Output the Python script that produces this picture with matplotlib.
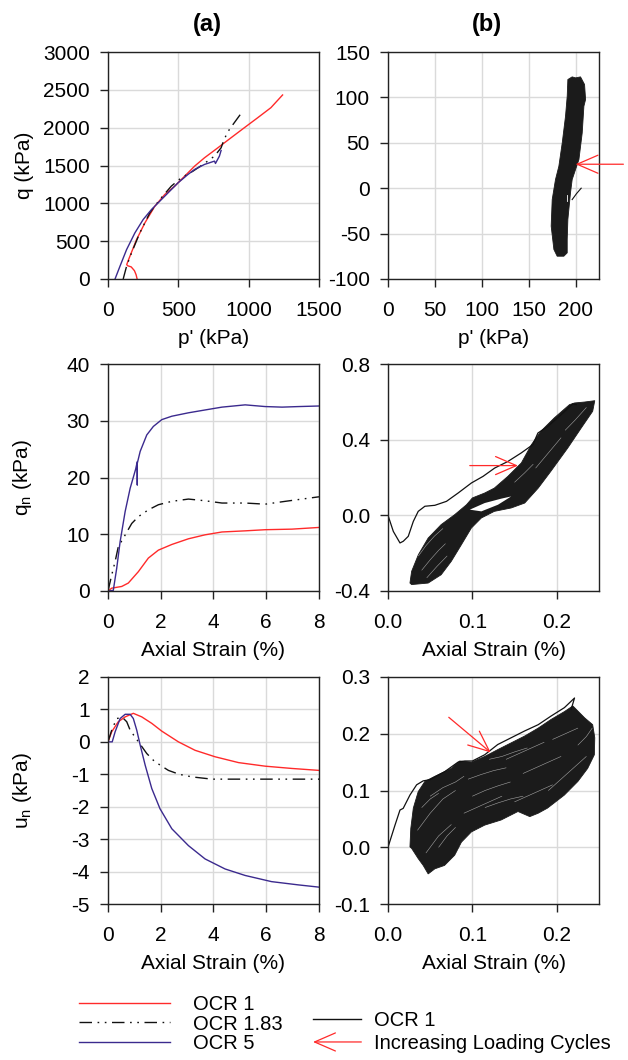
import numpy as np
import matplotlib
matplotlib.use('Agg')
import matplotlib.pyplot as plt
from matplotlib.lines import Line2D
from matplotlib.patches import FancyArrowPatch
from matplotlib.legend_handler import HandlerBase

plt.rcParams['font.family'] = ['Liberation Sans', 'DejaVu Sans']
plt.rcParams['mathtext.default'] = 'regular'
plt.rcParams['axes.unicode_minus'] = False

RED = '#ff2a2a'
BLUE = '#3b2a8e'
BLACK = '#111111'
BLOB = '#1b1b1b'
DASHDOT2 = (0, (9, 4, 1.2, 4, 1.2, 4))

# ---- (a) monotonic tests ----
# q vs p'
a1_red_p = [207, 200, 188, 165, 140, 133, 145, 160, 203, 262, 333, 403, 474, 545, 616, 686, 781, 875, 969, 1064, 1158, 1241]
a1_red_q = [0, 55, 110, 160, 175, 190, 250, 320, 521, 741, 962, 1116, 1227, 1359, 1492, 1602, 1734, 1867, 1999, 2131, 2264, 2432]
a1_blk_p = [108, 132, 167, 226, 297, 368, 450, 521, 604, 675, 757, 804, 821, 840, 863, 950]
a1_blk_q = [0, 168, 344, 609, 874, 1050, 1227, 1337, 1425, 1514, 1624, 1734, 1822, 1900, 1977, 2198]
a1_blu_p = [50, 85, 132, 191, 250, 309, 368, 439, 498, 568, 616, 686, 757, 764, 792, 804]
a1_blu_q = [0, 168, 388, 609, 786, 918, 1028, 1161, 1271, 1381, 1448, 1514, 1558, 1527, 1624, 1699]

# qn vs axial strain
a2_red_e = [0, 0.14, 0.52, 0.77, 1.15, 1.53, 1.91, 2.42, 3.05, 3.68, 4.32, 5.2, 5.96, 6.97, 8.0]
a2_red_q = [0, 0.5, 0.8, 1.4, 3.4, 5.8, 7.2, 8.2, 9.2, 9.9, 10.4, 10.6, 10.8, 10.9, 11.2]
a2_blk_e = [0, 0.14, 0.27, 0.39, 0.58, 0.9, 1.15, 1.53, 1.91, 2.42, 3.05, 3.68, 4.32, 5.2, 5.96, 6.72, 8.0]
a2_blk_q = [0, 2.8, 5.2, 7.8, 9.3, 11.9, 13.1, 14.3, 15.2, 15.8, 16.2, 15.9, 15.5, 15.5, 15.3, 15.8, 16.6]
a2_blu_e = [0, 0.2, 0.33, 0.46, 0.65, 0.84, 1.05, 1.11, 1.11, 1.11, 1.22, 1.47, 1.72, 2.04, 2.42, 3.05, 3.68, 4.32, 5.2, 5.96, 6.6, 7.23, 8.0]
a2_blu_q = [0, 0.1, 4.0, 8.7, 14.0, 18.1, 21.5, 22.8, 18.7, 22.5, 24.6, 27.5, 29.0, 30.2, 30.8, 31.4, 31.9, 32.4, 32.8, 32.5, 32.4, 32.5, 32.6]

# un vs axial strain
a3_red_e = [0, 0.14, 0.39, 0.65, 0.96, 1.28, 1.66, 2.04, 2.67, 3.3, 4.06, 4.95, 5.96, 6.97, 8.0]
a3_red_u = [0, 0.31, 0.62, 0.77, 0.88, 0.77, 0.57, 0.33, 0.0, -0.26, -0.46, -0.64, -0.75, -0.82, -0.88]
a3_blk_e = [0, 0.14, 0.33, 0.55, 0.71, 0.84, 1.47, 1.76, 2.04, 2.29, 2.7, 3.18, 3.94, 6.0, 8.0]
a3_blk_u = [0, 0.36, 0.72, 0.75, 0.62, 0.36, -0.36, -0.6, -0.75, -0.88, -1.0, -1.08, -1.15, -1.15, -1.15]
a3_blu_e = [0, 0.16, 0.27, 0.46, 0.65, 0.84, 0.96, 1.09, 1.22, 1.41, 1.66, 1.97, 2.42, 3.05, 3.68, 4.44, 5.2, 6.2, 7.21, 8.0]
a3_blu_u = [0, 0, 0.31, 0.72, 0.85, 0.85, 0.72, 0.36, -0.1, -0.72, -1.44, -2.06, -2.68, -3.2, -3.61, -3.92, -4.12, -4.31, -4.41, -4.48]

# ---- (b) cyclic test, OCR 1 ----
# q vs p': envelope of the loops
b1_env_p = [176.9, 174.0, 175.1, 178.6, 182.2, 185.8, 189.3, 191.1, 191.8, 196.4, 200.0, 205.3, 209.6, 210.7,
            208.9, 207.1, 203.6, 200.0, 196.4, 194.6, 191.8, 191.1, 191.1, 187.5, 180.4]
b1_env_q = [-67.5, -41.8, -12.5, 9.5, 24.2, 49.9, 79.3, 101.3, 119.7, 122.6, 121.5, 122.6, 114.2, 97.7,
            90.3, 60.9, 31.6, 20.6, 9.5, -5.1, -34.5, -56.5, -71.2, -74.9, -74.9]
b1_first_p = [206.0, 201.0, 196.4]
b1_first_q = [0.0, -6.0, -12.5]

# qn vs axial strain
b2_first_e = [0, 0.0063, 0.0142, 0.0181, 0.024, 0.03, 0.0358, 0.0437, 0.0555, 0.0693, 0.0831, 0.0988, 0.1126,
              0.1264, 0.1421, 0.1579, 0.1717, 0.1776, 0.1894, 0.2051, 0.2189, 0.223]
b2_first_q = [0, -0.085, -0.146, -0.137, -0.111, -0.032, 0.021, 0.048, 0.053, 0.074, 0.118, 0.171, 0.206,
              0.25, 0.285, 0.33, 0.374, 0.435, 0.47, 0.532, 0.589, 0.585]
b2_env_e = [0.026, 0.028, 0.036, 0.0476, 0.063, 0.079, 0.093, 0.1, 0.1146, 0.126, 0.142, 0.158, 0.17, 0.181,
            0.197, 0.215, 0.221, 0.233, 0.245, 0.2425, 0.229, 0.213, 0.193, 0.178, 0.162, 0.146, 0.126,
            0.1106, 0.0988, 0.087, 0.075, 0.063, 0.0476, 0.028]
b2_env_q = [-0.358, -0.296, -0.208, -0.12, -0.049, 0.0035, 0.056, 0.092, 0.118, 0.144, 0.206, 0.277, 0.374,
            0.444, 0.515, 0.585, 0.594, 0.599, 0.606, 0.55, 0.462, 0.356, 0.233, 0.144, 0.065, 0.039, 0.021,
            -0.014, -0.067, -0.155, -0.243, -0.314, -0.358, -0.366]
b2_hole_e = [0.0969, 0.1146, 0.134, 0.146, 0.1303, 0.1106]
b2_hole_q = [0.03, 0.065, 0.088, 0.1, 0.056, 0.021]
b2_streaks = [
    ([0.036, 0.045, 0.055, 0.065], [-0.215, -0.160, -0.110, -0.070]),
    ([0.040, 0.050, 0.060, 0.068], [-0.290, -0.235, -0.185, -0.150]),
    ([0.046, 0.058, 0.070], [-0.330, -0.270, -0.215]),
    ([0.175, 0.190, 0.205], [0.250, 0.330, 0.410]),
    ([0.210, 0.222, 0.235], [0.450, 0.505, 0.570]),
    ([0.150, 0.162, 0.172], [0.175, 0.225, 0.270]),
]

# un vs axial strain
b3_first_e = [0, 0.0083, 0.0142, 0.018, 0.026, 0.0339, 0.0417, 0.0496, 0.067, 0.083, 0.091, 0.1, 0.1146, 0.13,
              0.146, 0.162, 0.178, 0.193, 0.209, 0.221, 0.217]
b3_first_u = [0, 0.039, 0.0656, 0.0685, 0.092, 0.11, 0.117, 0.119, 0.133, 0.15, 0.152, 0.152, 0.163, 0.181,
              0.193, 0.205, 0.216, 0.231, 0.246, 0.263, 0.243]
b3_env_e = [0.026, 0.027, 0.03, 0.0358, 0.0437, 0.0555, 0.075, 0.085, 0.099, 0.1146, 0.13, 0.146, 0.162, 0.178,
            0.193, 0.209, 0.219, 0.233, 0.2425, 0.245, 0.2445, 0.2366, 0.225, 0.209, 0.189, 0.178, 0.168,
            0.154, 0.134, 0.1146, 0.0988, 0.087, 0.079, 0.067, 0.0555, 0.0476, 0.0417, 0.0358, 0.028]
b3_env_u = [0.0006, 0.033, 0.069, 0.098, 0.116, 0.125, 0.139, 0.152, 0.15, 0.16, 0.172, 0.184, 0.196, 0.21,
            0.225, 0.239, 0.249, 0.228, 0.216, 0.193, 0.163, 0.139, 0.116, 0.092, 0.069, 0.06, 0.054,
            0.063, 0.048, 0.039, 0.027, 0.009, -0.014, -0.032, -0.038, -0.047, -0.032, -0.02, -0.002]
b3_streaks = [
    ([0.035, 0.050, 0.065, 0.080], [0.030, 0.060, 0.085, 0.100]),
    ([0.045, 0.060, 0.075], [-0.010, 0.020, 0.040]),
    ([0.050, 0.065, 0.080, 0.090], [0.090, 0.105, 0.115, 0.125]),
    ([0.090, 0.105, 0.120, 0.135], [0.060, 0.070, 0.080, 0.090]),
    ([0.095, 0.110, 0.125, 0.140], [0.120, 0.128, 0.135, 0.140]),
    ([0.100, 0.115, 0.130, 0.145], [0.090, 0.100, 0.108, 0.115]),
    ([0.140, 0.155, 0.170, 0.185], [0.155, 0.165, 0.175, 0.185]),
    ([0.150, 0.165, 0.180, 0.195], [0.080, 0.090, 0.100, 0.110]),
    ([0.160, 0.175, 0.190, 0.205], [0.130, 0.140, 0.150, 0.160]),
    ([0.190, 0.205, 0.220, 0.235], [0.100, 0.120, 0.140, 0.160]),
    ([0.195, 0.210, 0.225], [0.190, 0.200, 0.210]),
    ([0.225, 0.235, 0.242], [0.180, 0.195, 0.210]),
    ([0.040, 0.050, 0.060], [0.070, 0.085, 0.095]),
    ([0.060, 0.070, 0.080], [0.000, 0.020, 0.035]),
    ([0.120, 0.135, 0.150, 0.165], [0.155, 0.160, 0.168, 0.175]),
    ([0.115, 0.130, 0.145, 0.160], [0.070, 0.078, 0.085, 0.090]),
]

# red "increasing loading cycles" arrows (tail, tip)
b1_arrow = ((251, 26.4), (200, 26.4))
b2_arrow = ((0.0969, 0.263), (0.154, 0.263))
b3_arrow = ((0.072, 0.229), (0.1217, 0.167))

# ---- figure ----
fig = plt.figure(figsize=(6.28, 10.6), dpi=100)
W, H = 628, 1060
left_x = [108, 388]
rows_top = [52, 364, 677]
aw, ah = 211, 227
axes = [[fig.add_axes([lx / W, 1 - (rt + ah) / H, aw / W, ah / H]) for lx in left_x] for rt in rows_top]

FS = 15


def style(ax):
    ax.grid(True, color='#dadada', lw=1.0)
    ax.set_axisbelow(True)
    for s in ax.spines.values():
        s.set_color('#222222')
        s.set_linewidth(1.0)
    ax.tick_params(axis='both', direction='out', length=6, width=1.0, labelsize=FS, colors='#222222',
                   labelcolor='black', top=False, right=False)
    ax.tick_params(axis='x', pad=10)
    ax.tick_params(axis='y', pad=7)


arrow_style = '->,head_length=1.5,head_width=0.65'


def red_arrow(ax, tail, tip):
    ax.annotate('', xy=tip, xytext=tail, annotation_clip=False,
                arrowprops=dict(arrowstyle=arrow_style, color=RED, lw=0.9, mutation_scale=10,
                                shrinkA=0, shrinkB=0))


def streaks(ax, lines):
    for xs, ys in lines:
        ax.plot(xs, ys, color='white', lw=0.4, alpha=0.6, solid_capstyle='round')


# (a) row 1
ax = axes[0][0]
style(ax)
ax.plot(a1_red_p, a1_red_q, color=RED, lw=1.0)
ax.plot(a1_blk_p, a1_blk_q, color=BLACK, lw=1.0, ls=DASHDOT2)
ax.plot(a1_blu_p, a1_blu_q, color=BLUE, lw=1.0)
ax.set_xlim(0, 1500)
ax.set_ylim(0, 3000)
ax.set_xticks([0, 500, 1000, 1500])
ax.set_yticks(np.arange(0, 3001, 500))
ax.set_xlabel("p' (kPa)", fontsize=FS)
ax.set_ylabel('q (kPa)', fontsize=FS)

# (b) row 1
ax = axes[0][1]
style(ax)
ax.fill(b1_env_p, b1_env_q, color=BLOB, lw=0.6, ec=BLOB)
ax.plot(b1_first_p, b1_first_q, color=BLACK, lw=0.8)
ax.plot([190.5, 190.5], [-8, -14], color='white', lw=0.6)
ax.set_xlim(0, 225)
ax.set_ylim(-100, 150)
ax.set_xticks([0, 50, 100, 150, 200])
ax.set_yticks([-100, -50, 0, 50, 100, 150])
ax.set_xlabel("p' (kPa)", fontsize=FS)
red_arrow(ax, *b1_arrow)

# (a) row 2
ax = axes[1][0]
style(ax)
ax.plot(a2_red_e, a2_red_q, color=RED, lw=1.0)
ax.plot(a2_blk_e, a2_blk_q, color=BLACK, lw=1.0, ls=DASHDOT2)
ax.plot(a2_blu_e, a2_blu_q, color=BLUE, lw=1.0)
ax.set_xlim(0, 8)
ax.set_ylim(0, 40)
ax.set_xticks([0, 2, 4, 6, 8])
ax.set_yticks([0, 10, 20, 30, 40])
ax.set_xlabel('Axial Strain (%)', fontsize=FS)
ax.set_ylabel('q$_n$ (kPa)', fontsize=FS)

# (b) row 2
ax = axes[1][1]
style(ax)
ax.fill(b2_env_e, b2_env_q, color=BLOB, lw=0.6, ec=BLOB)
ax.fill(b2_hole_e, b2_hole_q, color='white', lw=0)
streaks(ax, b2_streaks)
ax.plot(b2_first_e, b2_first_q, color=BLACK, lw=0.9)
ax.set_xlim(0, 0.25)
ax.set_ylim(-0.4, 0.8)
ax.set_xticks([0, 0.1, 0.2])
ax.set_xticklabels(['0.0', '0.1', '0.2'])
ax.set_yticks([-0.4, 0.0, 0.4, 0.8])
ax.set_yticklabels(['-0.4', '0.0', '0.4', '0.8'])
ax.set_xlabel('Axial Strain (%)', fontsize=FS)
red_arrow(ax, *b2_arrow)

# (a) row 3
ax = axes[2][0]
style(ax)
ax.plot(a3_red_e, a3_red_u, color=RED, lw=1.0)
ax.plot(a3_blk_e, a3_blk_u, color=BLACK, lw=1.0, ls=DASHDOT2)
ax.plot(a3_blu_e, a3_blu_u, color=BLUE, lw=1.0)
ax.set_xlim(0, 8)
ax.set_ylim(-5, 2)
ax.set_xticks([0, 2, 4, 6, 8])
ax.set_yticks(np.arange(-5, 3, 1))
ax.set_xlabel('Axial Strain (%)', fontsize=FS)
ax.set_ylabel('u$_n$ (kPa)', fontsize=FS)

# (b) row 3
ax = axes[2][1]
style(ax)
ax.fill(b3_env_e, b3_env_u, color=BLOB, lw=0.6, ec=BLOB)
streaks(ax, b3_streaks)
ax.plot(b3_first_e, b3_first_u, color=BLACK, lw=0.9)
ax.set_xlim(0, 0.25)
ax.set_ylim(-0.1, 0.3)
ax.set_xticks([0, 0.1, 0.2])
ax.set_xticklabels(['0.0', '0.1', '0.2'])
ax.set_yticks([-0.1, 0.0, 0.1, 0.2, 0.3])
ax.set_yticklabels(['-0.1', '0.0', '0.1', '0.2', '0.3'])
ax.set_xlabel('Axial Strain (%)', fontsize=FS)
red_arrow(ax, *b3_arrow)

for row in axes:
    row[0].yaxis.set_label_coords((34 - 108) / aw, 0.5)
    for ax in row:
        ax.xaxis.labelpad = 6.5

axes[0][0].text(0.469, 1.119, '(a)', transform=axes[0][0].transAxes, ha='center', va='center',
                fontsize=17, fontweight='bold')
axes[0][1].text(0.469, 1.119, '(b)', transform=axes[0][1].transAxes, ha='center', va='center',
                fontsize=17, fontweight='bold')


# legends
class HandlerArrow(HandlerBase):
    def create_artists(self, legend, orig_handle, xdescent, ydescent, width, height, fontsize, trans):
        y = height / 2 - ydescent
        arr = FancyArrowPatch((width - xdescent, y), (-xdescent, y), arrowstyle=arrow_style,
                              mutation_scale=10, color=RED, lw=0.9, transform=trans,
                              shrinkA=0, shrinkB=0)
        return [arr]


LFS = 14.5
h_red = Line2D([], [], color=RED, lw=1.0)
h_blk = Line2D([], [], color=BLACK, lw=1.0, ls=DASHDOT2)
h_blu = Line2D([], [], color=BLUE, lw=1.0)
fig.legend([h_red, h_blk, h_blu], ['OCR 1', 'OCR 1.83', 'OCR 5'], loc='center left',
           bbox_to_anchor=(79 / W, 1 - 1024 / H), frameon=False, fontsize=LFS, borderpad=0,
           borderaxespad=0, handlelength=4.5, handletextpad=1.15, labelspacing=0.02)

h_cyc = Line2D([], [], color=BLACK, lw=1.0)
h_arr = Line2D([], [])
fig.legend([h_cyc, h_arr], ['OCR 1', 'Increasing Loading Cycles'], loc='center left',
           bbox_to_anchor=(313 / W, 1 - 1032 / H), frameon=False, fontsize=LFS, borderpad=0,
           borderaxespad=0, handlelength=2.4, handletextpad=0.63, labelspacing=0.2,
           handler_map={h_arr: HandlerArrow()})

fig.savefig('out.png', dpi=100)
